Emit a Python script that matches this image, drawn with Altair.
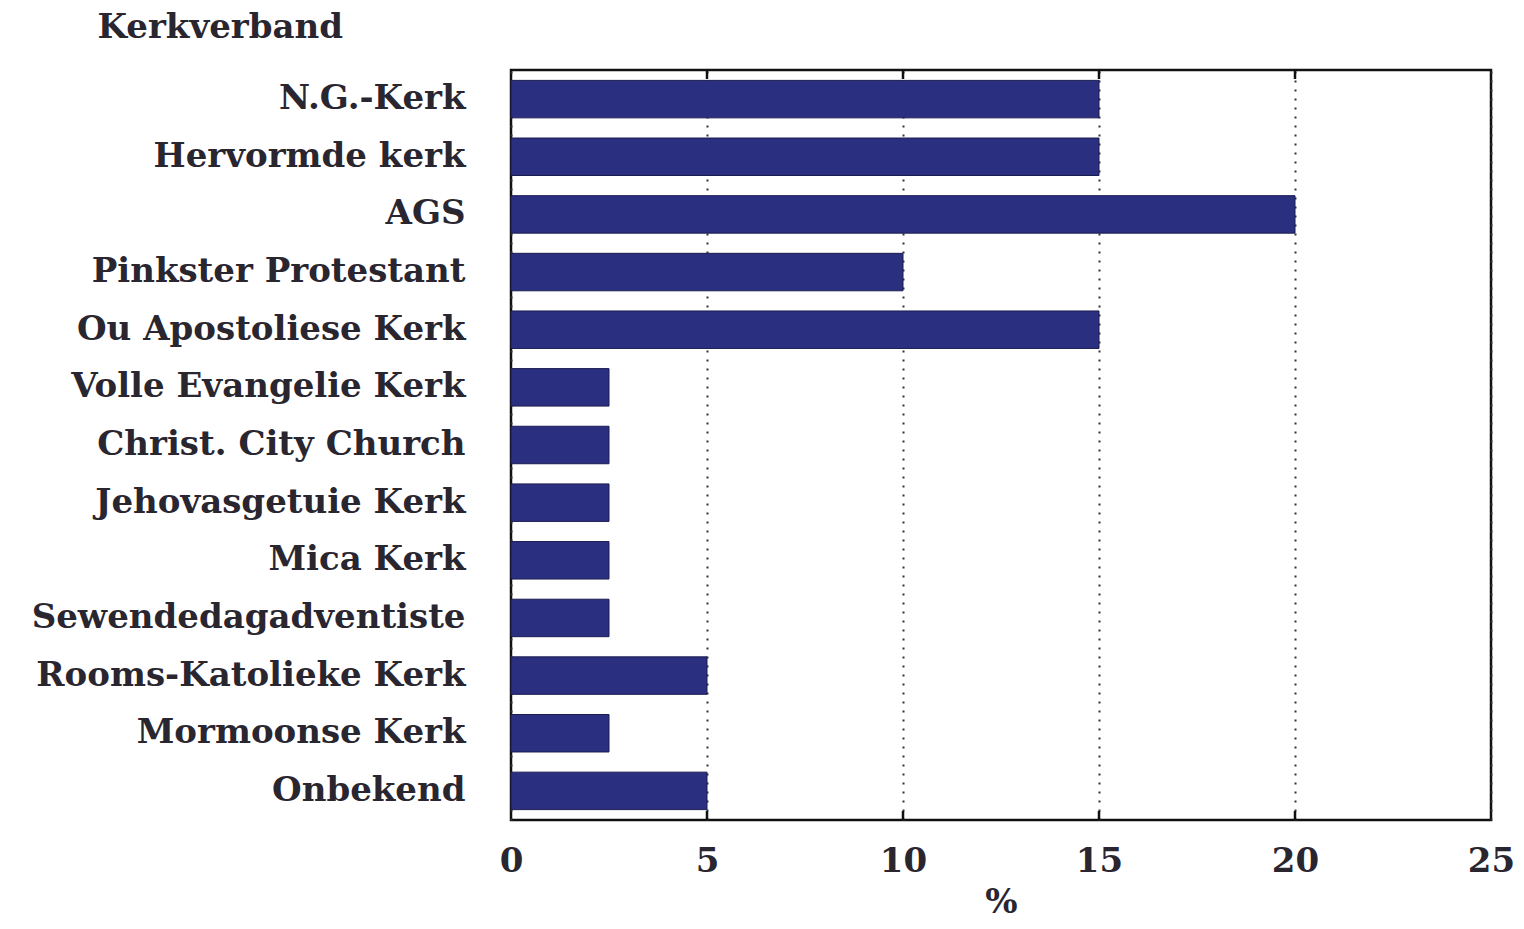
import altair as alt
import pandas as pd

categories = ["N.G.-Kerk", "Hervormde kerk", "AGS", "Pinkster Protestant",
              "Ou Apostoliese Kerk", "Volle Evangelie Kerk", "Christ. City Church",
              "Jehovasgetuie Kerk", "Mica Kerk", "Sewendedagadventiste",
              "Rooms-Katolieke Kerk", "Mormoonse Kerk", "Onbekend"]
values = [15, 15, 20, 10, 15, 2.5, 2.5, 2.5, 2.5, 2.5, 5, 2.5, 5]
x_ticks = [0, 5, 10, 15, 20, 25]

df = pd.DataFrame({"kerk": categories, "pct": values})
ticks_df = pd.DataFrame({"t": x_ticks[1:-1]})
FONT = "DejaVu Serif"
FS = 34
TXT = "#2a2630"

xscale = alt.Scale(domain=[0, 25], nice=False)

bars = alt.Chart(df).mark_bar(color="#2b2f80", stroke="#1a1c50", strokeWidth=1).encode(
    x=alt.X("pct:Q", title="%", scale=xscale,
            axis=alt.Axis(values=x_ticks, grid=True, gridDash=[2, 7], gridColor="#333333",
                          gridWidth=2, tickSize=0, domain=False, labelPadding=24,
                          labelFlush=False,
                          labelFont=FONT, labelFontSize=FS, labelFontWeight="bold",
                          labelColor=TXT, titleFont=FONT, titleFontSize=FS,
                          titleFontWeight="bold", titleColor=TXT, titlePadding=7)),
    y=alt.Y("kerk:N", sort=categories, title="Kerkverband",
            scale=alt.Scale(paddingInner=0.35, paddingOuter=0.18),
            axis=alt.Axis(ticks=False, domain=False, labelPadding=46, labelLimit=600,
                          labelFont=FONT, labelFontSize=FS, labelFontWeight="bold",
                          labelColor=TXT, titleFont=FONT, titleFontSize=FS,
                          titleFontWeight="bold", titleColor=TXT, titleAngle=0,
                          titleAlign="left", titleBaseline="middle",
                          titleX=-414, titleY=-43, titleLimit=600)),
)

top_ticks = alt.Chart(ticks_df).mark_rule(color="#111111", strokeWidth=2.5).encode(
    x=alt.X("t:Q", scale=xscale), y=alt.value(0), y2=alt.value(9))
bot_ticks = alt.Chart(ticks_df).mark_rule(color="#111111", strokeWidth=2.5).encode(
    x=alt.X("t:Q", scale=xscale), y=alt.value(741), y2=alt.value(750))

chart = alt.layer(bars, top_ticks, bot_ticks).properties(
    width=980, height=750,
    autosize=alt.AutoSizeParams(type="none"),
    padding={"left": 503, "top": 62, "right": 25, "bottom": 101},
    background="white",
).configure_view(stroke="#111111", strokeWidth=2.5)

chart.save("out.html", embed_options={"renderer": "svg", "actions": False})
